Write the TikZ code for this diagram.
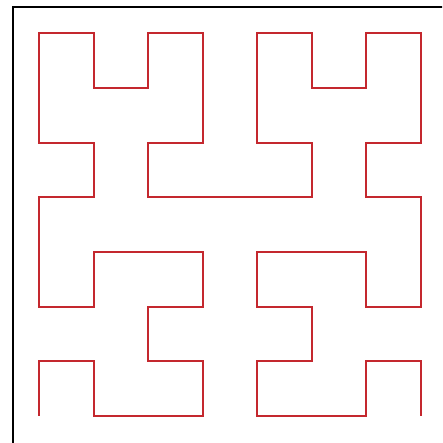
\documentclass[tikz,border=0pt]{standalone}
\definecolor{curvered}{RGB}{196,40,46}
\tikzset{frame/.style={draw=black,line width=2pt},
hilbert/.style={draw=curvered,line width=2pt,line join=miter,line cap=butt}}
\begin{document}
\begin{tikzpicture}[x=1pt,y=-1pt]
\useasboundingbox (0,0) rectangle (442,443);
\fill[white] (0,0) rectangle (442,443);
\begin{scope}
\clip (0,0) rectangle (442,443);
\draw[frame] (12.5,7.5) rectangle (450,452);
\end{scope}
\begin{scope}[shift={(39,33.5)},x=54.5pt,y=-54.6pt]
\draw[hilbert] (0,7)--(0,6)--(1,6)--(1,7)--(3,7)--(3,6)--(2,6)--(2,5)--(3,5)--(3,4)--(1,4)--(1,5)--(0,5)--(0,3)--(1,3)--(1,2)--(0,2)--(0,0)--(1,0)--(1,1)--(2,1)--(2,0)--(3,0)--(3,2)--(2,2)--(2,3)--(5,3)--(5,2)--(4,2)--(4,0)--(5,0)--(5,1)--(6,1)--(6,0)--(7,0)--(7,2)--(6,2)--(6,3)--(7,3)--(7,5)--(6,5)--(6,4)--(4,4)--(4,5)--(5,5)--(5,6)--(4,6)--(4,7)--(6,7)--(6,6)--(7,6)--(7,7);
\end{scope}
\end{tikzpicture}
\end{document}
